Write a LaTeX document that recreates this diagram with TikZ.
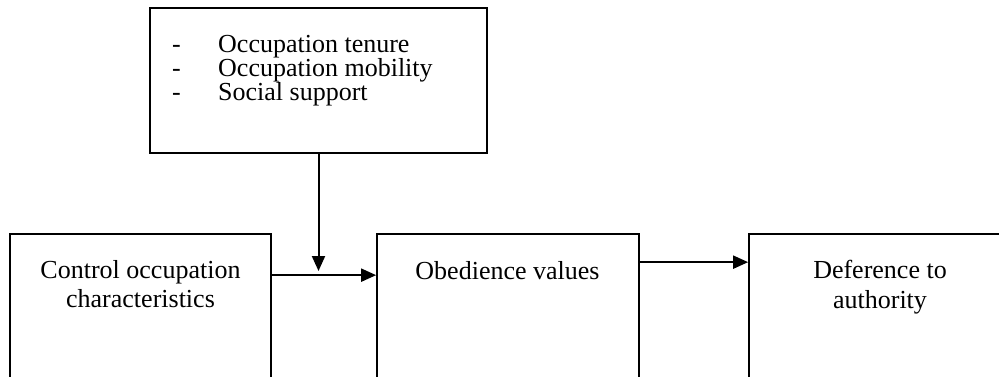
\documentclass[tikz,border=0pt]{standalone}
\usepackage{fontspec}
\setmainfont{Liberation Serif}
\usetikzlibrary{arrows.meta,calc}

\tikzset{
  box/.style={draw, line width=1.7pt, rectangle, inner sep=0pt},
  txt/.style={inner sep=0pt, anchor=base, font=\fontsize{26}{29}\selectfont},
  ltxt/.style={txt, anchor=base west},
  arr/.style={line width=2pt, -{Triangle[length=15pt,width=13pt]}}
}

\begin{document}
\begin{tikzpicture}[x=1pt, y=-1pt]
  \useasboundingbox (0,0) rectangle (999,377);
  \clip (0,0) rectangle (999,377);

  % moderator box with bulleted list
  \node[box, minimum width=337pt, minimum height=145pt] (mod) at (318.5,80.5) {};
  \node[ltxt] (d1) at (172,53) {-};
  \node[ltxt] (d2) at (172,77) {-};
  \node[ltxt] (d3) at (172,100.5) {-};
  \node[ltxt] (m1) at (218,53) {Occupation tenure};
  \node[ltxt] (m2) at (218,77) {Occupation mobility};
  \node[ltxt] (m3) at (218,100.5) {Social support};

  % main chain of boxes (open at the bottom edge)
  \node[box, minimum width=261pt, minimum height=200pt] (ctrl) at (140.5,334) {};
  \node[box, minimum width=262pt, minimum height=200pt] (obed) at (508,334) {};
  \node[box, minimum width=262pt, minimum height=200pt] (defer) at (880,334) {};

  \node[txt] (c1) at (140.5,278) {Control occupation};
  \node[txt] (c2) at (140.5,307) {characteristics};
  \node[txt] (o1) at (507.5,279) {Obedience values};
  \node[txt] (r1) at (880,278) {Deference to};
  \node[txt] (r2) at (880,308) {authority};

  % connectors
  \coordinate (tip) at (318.5,271);
  \draw[arr] (mod.south) -- (tip);
  \draw[arr] ($(ctrl.north east)+(0,42)$) -- ($(obed.north west)+(0,42)$);
  \draw[arr] ($(obed.north east)+(0,29)$) -- ($(defer.north west)+(0,29)$);
\end{tikzpicture}
\end{document}
